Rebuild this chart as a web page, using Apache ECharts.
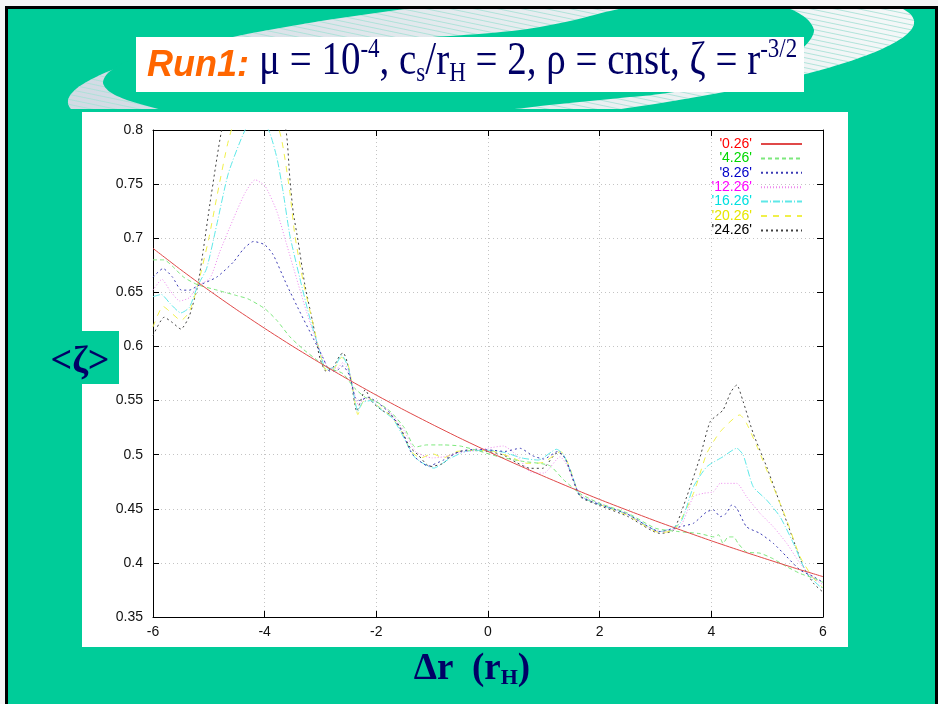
<!DOCTYPE html>
<html>
<head>
<meta charset="utf-8">
<script src="https://cdn.jsdelivr.net/npm/echarts@6/dist/echarts.min.js"></script>
<style>
  html, body { margin: 0; padding: 0; background: #ffffff; }
  #chart { width: 938px; height: 704px; }
</style>
</head>
<body>
<div id="chart"></div>
<script>
// Mean vortensity profile <ζ> versus Δr (in Hill radii), one curve per output time.
const seriesNames = ["'0.26'", "'4.26'", "'8.26'", "'12.26'", "'16.26'", "'20.26'", "'24.26'"];

const t0_26 = [[-6,0.6906],[-5.5,0.6708],[-5,0.6519],[-4.5,0.6339],[-4,0.6167],[-3.5,0.6002],[-3,0.5845],
  [-2.5,0.5694],[-2,0.5550],[-1.5,0.5412],[-1,0.5280],[-0.5,0.5152],[0,0.5030],[0.5,0.4913],[1,0.4800],
  [1.5,0.4691],[2,0.4586],[2.5,0.4486],[3,0.4388],[3.5,0.4295],[4,0.4204],[4.5,0.4117],[5,0.4033],
  [5.5,0.3951],[6,0.3873]];

const t4_26 = [[-6,0.680],[-5.8,0.680],[-5.65,0.674],[-5.45,0.664],[-5.2,0.657],[-4.85,0.652],[-4.5,0.647],
  [-4.3,0.644],[-4.0,0.635],[-3.78,0.624],[-3.55,0.609],[-3.3,0.597],[-3.05,0.587],[-2.85,0.580],[-2.6,0.575],
  [-2.4,0.562],[-2.2,0.553],[-2.0,0.549],[-1.75,0.540],[-1.5,0.525],[-1.3,0.507],[-1.1,0.509],[-0.8,0.509],
  [-0.5,0.508],[-0.2,0.504],[0.2,0.498],[0.6,0.494],[1.1,0.490],[1.35,0.477],[1.65,0.464],[2.0,0.455],
  [2.5,0.446],[3.0,0.432],[3.4,0.429],[3.8,0.427],[4.05,0.424],[4.13,0.426],[4.21,0.418],[4.3,0.424],
  [4.4,0.424],[4.48,0.418],[4.63,0.410],[4.87,0.409],[5.1,0.404],[5.35,0.3965],[5.6,0.390],[5.83,0.386],[6,0.382]];

const t8_26 = [[-6,0.664],[-5.82,0.672],[-5.65,0.664],[-5.49,0.652],[-5.35,0.652],[-5.2,0.656],[-4.86,0.664],
  [-4.56,0.678],[-4.38,0.690],[-4.2,0.697],[-4.0,0.694],[-3.85,0.685],[-3.605,0.657],[-3.37,0.632],[-3.13,0.6075],
  [-2.95,0.589],[-2.83,0.577],[-2.7,0.578],[-2.6,0.582],[-2.48,0.573],[-2.38,0.553],[-2.3,0.550],[-2.15,0.553],
  [-2.0,0.549],[-1.75,0.538],[-1.55,0.522],[-1.35,0.500],[-1.07,0.4895],[-0.8,0.495],[-0.5,0.503],[-0.2,0.505],
  [0.1,0.504],[0.3,0.503],[0.574,0.5059],[0.8,0.499],[1.0,0.496],[1.25,0.503],[1.4,0.495],[1.65,0.462],
  [2.0,0.454],[2.5,0.445],[3.08,0.429],[3.44,0.4334],[3.68,0.4366],[3.92,0.4473],[4.04,0.4489],[4.16,0.4427],
  [4.27,0.4459],[4.365,0.4535],[4.455,0.4505],[4.63,0.4334],[4.87,0.4273],[5.11,0.4181],[5.35,0.4057],
  [5.59,0.3934],[5.83,0.3873],[6,0.382]];

const t12_26 = [[-6,0.652],[-5.84,0.662],[-5.7,0.652],[-5.52,0.642],[-5.35,0.645],[-5.2,0.656],[-4.98,0.663],
  [-4.80,0.688],[-4.56,0.718],[-4.35,0.742],[-4.17,0.754],[-3.99,0.748],[-3.78,0.7245],[-3.605,0.694],
  [-3.43,0.663],[-3.25,0.632],[-3.07,0.604],[-2.95,0.589],[-2.85,0.580],[-2.7,0.580],[-2.6,0.585],[-2.5,0.578],
  [-2.4,0.558],[-2.32,0.546],[-2.2,0.552],[-2.0,0.549],[-1.75,0.539],[-1.5,0.522],[-1.3,0.503],[-1.0,0.497],
  [-0.8,0.498],[-0.5,0.502],[-0.2,0.504],[0.0,0.506],[0.275,0.508],[0.5,0.500],[0.75,0.4843],[1.0,0.483],
  [1.29,0.498],[1.42,0.490],[1.65,0.463],[2.0,0.455],[2.5,0.445],[3.08,0.429],[3.44,0.4334],[3.68,0.4612],
  [3.86,0.4643],[4.04,0.4658],[4.16,0.4735],[4.455,0.4735],[4.63,0.4612],[4.87,0.4459],[5.11,0.4334],
  [5.35,0.4181],[5.59,0.3996],[5.83,0.3857],[6,0.380]];

const t16_26 = [[-6,0.646],[-5.85,0.648],[-5.7,0.640],[-5.5,0.631],[-5.35,0.636],[-5.2,0.656],[-5.04,0.672],
  [-4.86,0.712],[-4.65,0.760],[-4.35,0.800],[-4.15,0.812],[-3.93,0.800],[-3.78,0.774],[-3.67,0.743],
  [-3.55,0.703],[-3.37,0.663],[-3.19,0.626],[-3.01,0.595],[-2.9,0.579],[-2.75,0.581],[-2.62,0.592],
  [-2.5,0.580],[-2.42,0.560],[-2.33,0.540],[-2.25,0.548],[-2.1,0.550],[-1.9,0.541],[-1.7,0.533],[-1.5,0.515],
  [-1.3,0.497],[-0.97,0.4876],[-0.7,0.496],[-0.4,0.503],[0.0,0.504],[0.3,0.502],[0.6,0.497],[0.9,0.495],
  [1.23,0.505],[1.35,0.500],[1.5,0.482],[1.65,0.462],[2.0,0.454],[2.5,0.445],[3.08,0.429],[3.44,0.4366],
  [3.68,0.4704],[3.92,0.4889],[4.21,0.4981],[4.455,0.5059],[4.57,0.4997],[4.75,0.4704],[4.99,0.4581],
  [5.23,0.4427],[5.47,0.4181],[5.71,0.3904],[5.95,0.378],[6,0.377]];

const t20_26 = [[-6,0.618],[-5.82,0.637],[-5.65,0.630],[-5.5,0.624],[-5.35,0.632],[-5.2,0.656],[-5.0,0.700],
  [-4.85,0.740],[-4.65,0.790],[-4.4,0.830],[-4.15,0.840],[-3.9,0.825],[-3.70,0.792],[-3.55,0.743],
  [-3.46,0.703],[-3.31,0.660],[-3.13,0.620],[-3.0,0.592],[-2.9,0.578],[-2.75,0.580],[-2.62,0.590],
  [-2.5,0.582],[-2.42,0.560],[-2.33,0.537],[-2.25,0.548],[-2.15,0.553],[-2.0,0.546],[-1.75,0.536],
  [-1.55,0.522],[-1.38,0.503],[-1.2,0.497],[-1.0,0.501],[-0.8,0.497],[-0.55,0.503],[-0.2,0.504],[0.1,0.503],
  [0.4,0.498],[0.7,0.492],[1.0,0.493],[1.3,0.503],[1.45,0.490],[1.65,0.462],[2.0,0.454],[2.5,0.444],
  [3.08,0.428],[3.35,0.431],[3.68,0.4643],[3.92,0.5013],[4.16,0.5212],[4.51,0.5367],[4.63,0.529],
  [4.87,0.5013],[5.11,0.4704],[5.35,0.4396],[5.59,0.4057],[5.83,0.3857],[6,0.377]];

const t24_26 = [[-6,0.610],[-5.8,0.627],[-5.65,0.622],[-5.5,0.616],[-5.35,0.628],[-5.2,0.656],[-5.1,0.689],
  [-4.98,0.732],[-4.77,0.800],[-4.5,0.855],[-4.2,0.870],[-3.9,0.850],[-3.62,0.800],[-3.55,0.756],
  [-3.49,0.7245],[-3.40,0.697],[-3.28,0.657],[-3.13,0.620],[-3.01,0.589],[-2.9,0.577],[-2.77,0.581],
  [-2.65,0.592],[-2.59,0.594],[-2.52,0.585],[-2.44,0.564],[-2.35,0.540],[-2.28,0.550],[-2.2,0.560],
  [-2.08,0.549],[-1.9,0.541],[-1.75,0.537],[-1.58,0.526],[-1.4,0.507],[-1.25,0.4997],[-1.04,0.489],
  [-0.8,0.492],[-0.62,0.501],[-0.38,0.504],[0.0,0.503],[0.275,0.4997],[0.5,0.493],[0.75,0.4874],
  [0.98,0.4874],[1.23,0.5013],[1.35,0.500],[1.5,0.480],[1.65,0.4612],[2.0,0.453],[2.5,0.443],[3.08,0.4273],
  [3.32,0.430],[3.56,0.4612],[3.80,0.4981],[3.98,0.5305],[4.21,0.5413],[4.35,0.558],[4.455,0.5644],
  [4.57,0.549],[4.75,0.5197],[4.99,0.4889],[5.23,0.455],[5.47,0.4211],[5.65,0.3965],[5.83,0.3811],[6,0.373]];

const seriesData = [t0_26, t4_26, t8_26, t12_26, t16_26, t20_26, t24_26];
const lineColors = ['#e04848', '#7de87d', '#3a3ab4', '#ee8aee', '#5ee8e8', '#f0f04a', '#404040'];
const textColors = ['#ff0000', '#00d800', '#0000c8', '#ff00ff', '#00e0e0', '#e6e600', '#000000'];
const dashes = ['solid', [4, 3], [2, 3], [1, 2], [7, 2, 1, 2], [6, 6], [2, 3]];

const xMin = -6, xMax = 6, xStep = 2;
const yMin = 0.35, yMax = 0.8, yStep = 0.05;

const TEAL = '#00CC99';
const NAVY = '#000066';
const SANS = '"Liberation Sans", Arial, sans-serif';
const SERIF = '"Liberation Serif", "Times New Roman", serif';

// decorative swoosh behind the heading: an outer ellipse with a teal hole cut into it
function ellipsePoints(cx, cy, rx, ry, deg) {
  const a = deg * Math.PI / 180, pts = [];
  for (let i = 0; i < 180; i++) {
    const t = i / 180 * Math.PI * 2;
    const u = rx * Math.cos(t), v = ry * Math.sin(t);
    pts.push([cx + u * Math.cos(a) - v * Math.sin(a), cy + u * Math.sin(a) + v * Math.cos(a)]);
  }
  return pts;
}
const swooshHole = [[103,83],[107,74],[118,66],[137,57],[180,49],[260,43],[360,40],[450,36],[520,30],
  [570,21],[610,11],[650,3],[700,-2],[760,2],[790,9],[807,19],[814,30],[810,40],[798,52],[770,68],
  [720,84],[660,94],[620,98],[560,104],[480,112],[300,118],[180,113],[130,101],[110,92]];

function stripeTile() {
  const c = document.createElement('canvas');
  c.width = 24; c.height = 5;
  const g = c.getContext('2d');
  g.strokeStyle = 'rgba(170,225,215,0.9)';
  g.lineWidth = 1;
  for (const dy of [-5, 0, 5]) {
    g.beginPath(); g.moveTo(0, dy); g.lineTo(24, dy + 5); g.stroke();
  }
  return c;
}

const chart = echarts.init(document.getElementById('chart'), null, { renderer: 'canvas' });

const baseAxisLine = { show: true, onZero: false, lineStyle: { color: '#000', width: 1 } };
const tickInside = { show: true, inside: true, length: 6, lineStyle: { color: '#000', width: 1 } };
const labelFont = { fontFamily: SANS, fontSize: 14, color: '#111' };

const option = {
  animation: false,
  backgroundColor: '#ffffff',
  grid: { left: 153, right: 115, top: 130, bottom: 87, containLabel: false },
  legend: {
    orient: 'vertical', right: 130, top: 132, align: 'right',
    itemWidth: 41, itemHeight: 14, itemGap: 0.4,
    selectedMode: false,
    itemStyle: { opacity: 0, color: 'rgba(0,0,0,0)', borderWidth: 0 },
    textStyle: { fontFamily: SANS, fontSize: 14, lineHeight: 14, padding: [0, 4, 0, 0] },
    data: seriesNames.map((n, i) => ({ name: n, textStyle: { color: textColors[i] } }))
  },
  xAxis: [
    { type: 'value', min: xMin, max: xMax, interval: xStep, position: 'bottom',
      axisLine: baseAxisLine, axisTick: tickInside,
      axisLabel: Object.assign({ margin: 8 }, labelFont),
      splitLine: { show: true, lineStyle: { color: '#c4c4c4', type: [1, 3], width: 1 } } },
    { type: 'value', min: xMin, max: xMax, interval: xStep, position: 'top',
      axisLine: baseAxisLine, axisTick: tickInside, axisLabel: { show: false }, splitLine: { show: false } }
  ],
  yAxis: [
    { type: 'value', min: yMin, max: yMax, interval: yStep, position: 'left',
      axisLine: baseAxisLine, axisTick: tickInside,
      axisLabel: Object.assign({ margin: 10 }, labelFont),
      splitLine: { show: true, lineStyle: { color: '#c4c4c4', type: [1, 3], width: 1 } } },
    { type: 'value', min: yMin, max: yMax, interval: yStep, position: 'right',
      axisLine: baseAxisLine, axisTick: tickInside, axisLabel: { show: false }, splitLine: { show: false } }
  ],
  series: seriesNames.map((n, i) => ({
    name: n, type: 'line', data: seriesData[i], symbol: 'none', smooth: 0.2,
    xAxisIndex: 0, yAxisIndex: 0, clip: true, z: 3 + (6 - i),
    lineStyle: { color: lineColors[i], width: 1, type: dashes[i] },
    itemStyle: { color: lineColors[i] }
  })),
  graphic: [
    // slide frame and background
    { type: 'rect', z: -20, silent: true, shape: { x: 0, y: 0, width: 938, height: 704 }, style: { fill: '#f6f6f6' } },
    { type: 'rect', z: -20, silent: true, shape: { x: 5, y: 6, width: 933, height: 698 }, style: { fill: '#000' } },
    { type: 'rect', z: -20, silent: true, shape: { x: 8, y: 9, width: 927, height: 695 }, style: { fill: TEAL } },
    // swoosh, clipped to the slide area
    { type: 'group', z: -19, silent: true,
      clipPath: { type: 'rect', shape: { x: 8, y: 9, width: 927, height: 100 } },
      children: [
        { type: 'polygon', z: -19, shape: { points: ellipsePoints(491, 62, 425, 62, -5.5) },
          style: { fill: new echarts.graphic.LinearGradient(0, 0, 1, 0, [
            { offset: 0, color: '#d2dae4' }, { offset: 0.5, color: '#e6ecef' }, { offset: 1, color: '#f4f8f8' }]) } },
        { type: 'polygon', z: -19, shape: { points: ellipsePoints(491, 62, 425, 62, -5.5) },
          style: { fill: { image: stripeTile(), repeat: 'repeat' } } },
        { type: 'polygon', z: -18, shape: { points: swooshHole, smooth: 0.3 }, style: { fill: TEAL } }
      ] },
    // heading box and plot panel
    { type: 'rect', z: -17, silent: true, shape: { x: 136, y: 37, width: 668, height: 55 }, style: { fill: '#ffffff' } },
    { type: 'rect', z: -17, silent: true, shape: { x: 82, y: 112, width: 766, height: 535 }, style: { fill: '#ffffff' } },
    { type: 'rect', z: -16, silent: true, shape: { x: 82, y: 331, width: 37, height: 53 }, style: { fill: TEAL } },
    // heading: bold italic run label, then the parameter list in a tall serif
    { type: 'text', z: 20, silent: true, x: 147, y: 66,
      style: { text: 'Run1:', align: 'left', verticalAlign: 'middle',
        font: 'italic bold 36px ' + SANS, fill: '#FF6600' } },
    { type: 'text', z: 20, silent: true, x: 259, y: 64, originX: 0, originY: 13, scaleY: 1.17,
      style: {
        text: '{m|μ = 10}{sup|-4}{m|, c}{sub|s}{m|/r}{sub|H}{m| = 2, ρ = cnst, ζ = r}{sup|-3/2}',
        verticalAlign: 'middle', align: 'left',
        rich: {
          m: { fontFamily: SERIF, fontSize: 39, fill: NAVY, lineHeight: 44 },
          sup: { fontFamily: SERIF, fontSize: 23, fill: NAVY, lineHeight: 26, verticalAlign: 'top' },
          sub: { fontFamily: SERIF, fontSize: 23, fill: NAVY, lineHeight: 24, verticalAlign: 'bottom' }
        }
      } },
    // axis titles
    { type: 'text', z: 20, silent: true, x: 80, y: 362,
      style: { text: '<ζ>', align: 'center', verticalAlign: 'middle',
        font: 'bold 38px ' + SERIF, fill: NAVY } },
    { type: 'text', z: 20, silent: true, x: 472, y: 669,
      style: {
        text: '{m|Δr  (r}{sub|H}{m|)}', align: 'center', verticalAlign: 'middle',
        rich: {
          m: { fontFamily: SERIF, fontWeight: 'bold', fontSize: 37, fill: NAVY, lineHeight: 40 },
          sub: { fontFamily: SERIF, fontWeight: 'bold', fontSize: 22, fill: NAVY, lineHeight: 22, verticalAlign: 'bottom' }
        }
      } }
  ]
};

chart.setOption(option);
</script>
</body>
</html>
